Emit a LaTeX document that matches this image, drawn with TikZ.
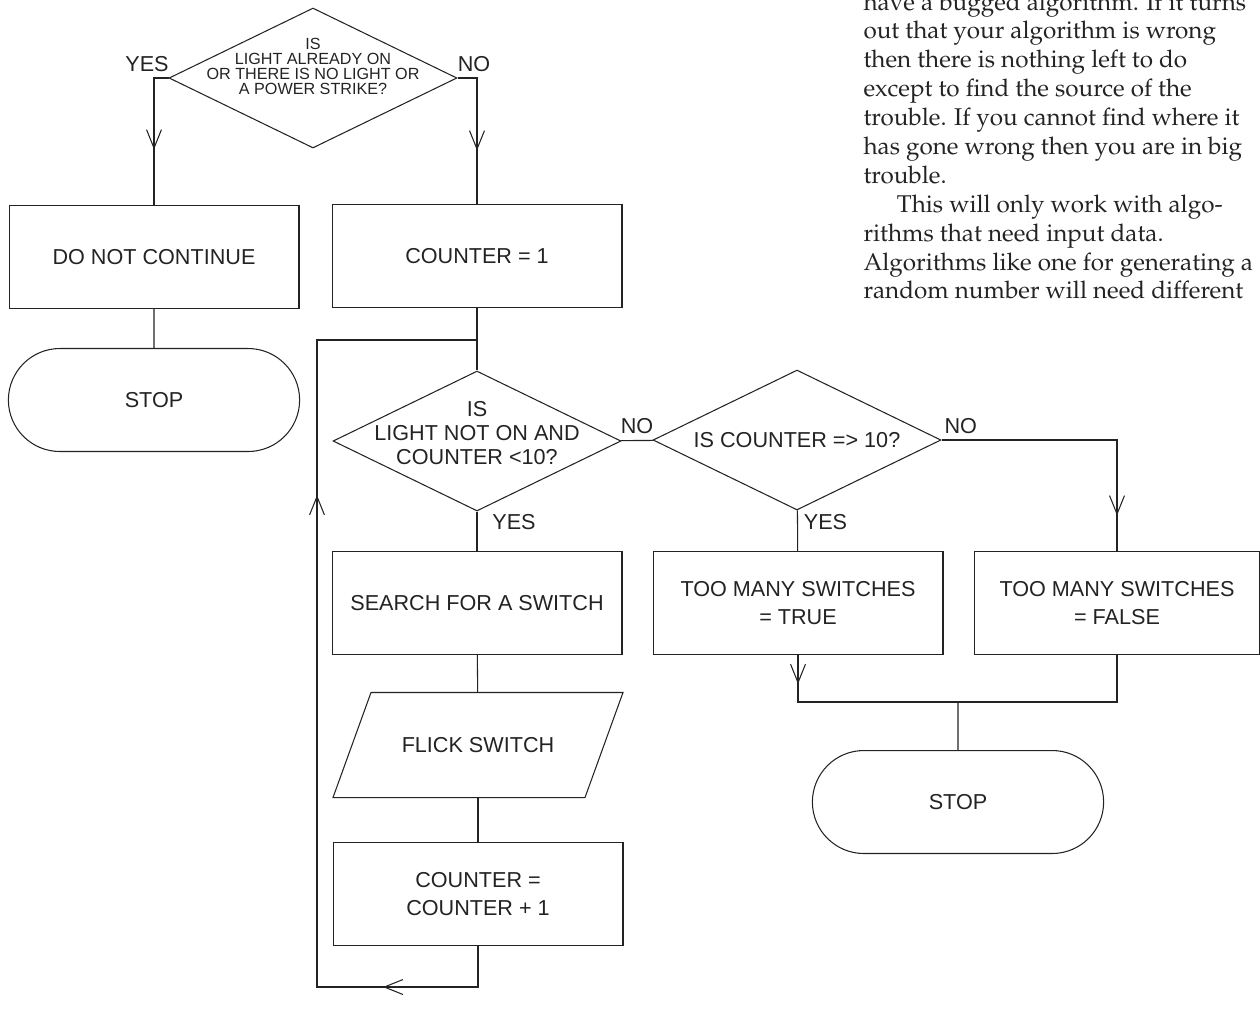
\documentclass[tikz,border=0pt]{standalone}
\usepackage[T1,TU]{fontenc}
\usepackage{fontspec}
\setmainfont{Liberation Sans}
\usepackage{tikz}
\usetikzlibrary{shapes.geometric, shapes.misc, arrows.meta, decorations.markings}

\definecolor{ink}{RGB}{35,35,35}
\newcommand{\palfont}{\fontencoding{T1}\fontfamily{ppl}\selectfont}

\begin{document}
\begin{tikzpicture}[
		x=0.02cm, y=-0.02cm,
		color=ink, line width=0.6pt,
		every node/.style={font=\fontsize{12.3}{16.4}\selectfont},
		box/.style={rectangle, draw, minimum width=5.8cm, minimum height=2.06cm, inner sep=0pt, align=center},
		stopnode/.style={rounded rectangle, draw, minimum width=6.06cm, minimum height=2.06cm},
		decision/.style={diamond, draw, minimum width=5.76cm, minimum height=2.8cm, inner sep=0pt},
		io/.style={rectangle, minimum width=5.02cm, minimum height=2.08cm, inner sep=0pt},
		small/.style={align=center, font=\fontsize{9.2}{8.6}\selectfont},
		mid/.style={align=center, font=\fontsize{12.3}{13.6}\selectfont},
		tag/.style={draw=none, fill=none},
		openv/.tip={Straight Barb[length=10.5pt, width=8.5pt]},
		flow/.style={postaction={decorate, decoration={markings, mark=at position #1 with {\arrow{openv}}}}}]
		\useasboundingbox (0,0) rectangle (1260,1009);
		\node[decision, label={[small, yshift=0.23cm]center:{IS\\LIGHT ALREADY ON\\OR THERE IS NO LIGHT OR\\A POWER STRIKE?}}] (1) at (313,78) {};
		\node[box] (2) at (154,257) {DO NOT CONTINUE};
		\node[box] (3) at (477,256) {COUNTER = 1};
		\node[stopnode] (4) at (154,400) {STOP};
		\node[decision, label={[mid, yshift=0.16cm]center:{IS\\LIGHT NOT ON AND\\COUNTER <10?}}] (5) at (477,441) {};
		\node[decision, label={center:{IS COUNTER => 10?}}] (6) at (797,440) {};
		\node[box] (7) at (477,603) {SEARCH FOR A SWITCH};
		\node[box] (8) at (798,603) {TOO MANY SWITCHES\\= TRUE};
		\node[box, minimum width=5.72cm] (9) at (1117,603) {TOO MANY SWITCHES\\= FALSE};
		\node[io] (10) at (478,745) {FLICK SWITCH};
		\draw ([xshift=0.38cm]10.north west) -- ([xshift=0.38cm]10.north east) -- ([xshift=-0.38cm]10.south east) -- ([xshift=-0.38cm]10.south west) -- cycle;
		\node[stopnode] (11) at (958,802) {STOP};
		\node[box] (12) at (478,894) {COUNTER =\\COUNTER + 1};
		\node[anchor=north west, inner sep=0pt, align=left, font=\palfont\fontsize{13.8}{16.44}\selectfont] (13) at (863,-8) {have a bugged algorithm. If it turns\\out that your algorithm is wrong\\then there is nothing left to do\\except to find the source of the\\trouble. If you cannot find where it\\has gone wrong then you are in big\\trouble.\\\hspace*{19pt}This will only work with algo-\\rithms that need input data.\\Algorithms like one for generating a\\random number will need different};
		\coordinate (a) at (317,987);
		\coordinate (b) at (317,340);
		\coordinate (c) at (477,340);
		\coordinate (d) at (958,702);
		\draw[flow=1.72cm] (1.west) -| node[tag, pos=0.5, above, xshift=-0.14cm]{YES} (2.north);
		\draw[flow=1.84cm] (1.east) -| node[tag, pos=0.5, above, xshift=-0.06cm]{NO} (3.north);
		\draw (2) -- (4);
		\draw (3) -- (5);
		\draw[flow=2.72cm, flow=13.88cm] (12.south) |- (a) -- (b) -- (c);
		\draw (5) -- node[tag, above]{NO} (6);
		\draw (5) -- node[tag, right, pos=0.27, xshift=0.18cm]{YES} (7);
		\draw (6) -- node[tag, right, pos=0.3]{YES} (8);
		\draw[flow=5.02cm] (6.east) -| node[tag, above, pos=0.055]{NO} (9.north);
		\draw[flow=0.58cm] (8.south) |- (d);
		\draw (9.south) |- (d);
		\draw (d) -- (11);
		\draw (7) -- (10);
		\draw (10) -- (12);
	\end{tikzpicture}
\end{document}
